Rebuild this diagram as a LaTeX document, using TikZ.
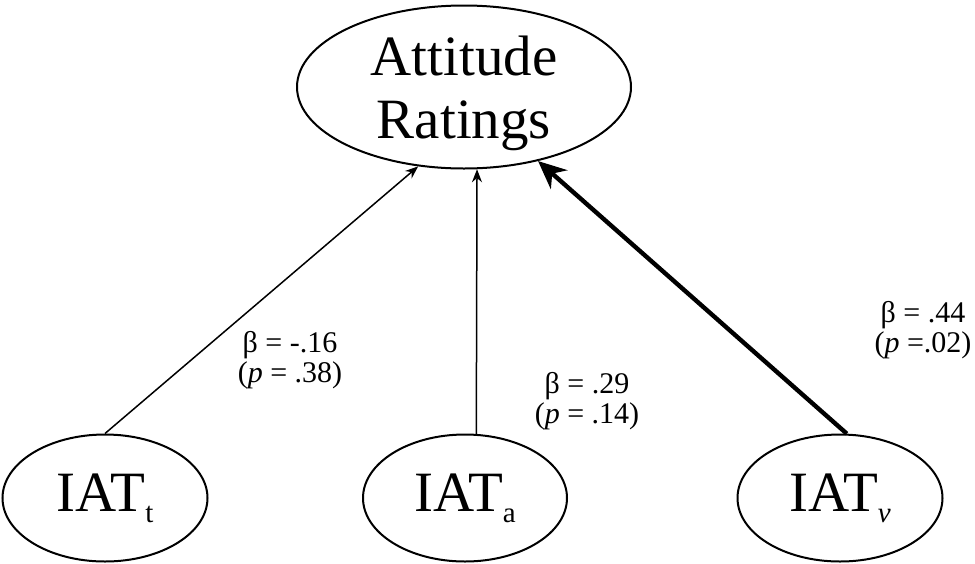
\documentclass[tikz,border=0pt]{standalone}
\usepackage{fontspec}
\setmainfont{Liberation Serif}
\usetikzlibrary{arrows.meta,shapes.geometric}

\newcommand{\subidx}[1]{\raisebox{-5.5pt}{\fontsize{14.5}{14.5}\selectfont #1}}

\begin{document}
\begin{tikzpicture}[x=0.5pt,y=-0.5pt,>=Stealth,
  oval/.style={draw,ellipse,line width=1pt,inner sep=0pt},
  bigtxt/.style={font=\fontsize{28.5}{31.5}\selectfont,align=center},
  coeflbl/.style={font=\fontsize{15}{15}\selectfont,align=center},
  thinarrow/.style={line width=0.75pt,-{Stealth[length=6.5pt,width=5pt]}},
  thickarrow/.style={line width=2.2pt,-{Stealth[length=14pt,width=12.5pt]}}]
  \useasboundingbox (0,0) rectangle (975,563);

  % outcome
  \node[oval,minimum width=167pt,minimum height=81.5pt,
        label={[bigtxt,yshift=-3pt]center:Attitude\\Ratings}] (att) at (464,87) {};

  % predictors
  \node[oval,minimum width=102.5pt,minimum height=63.5pt,
        label={[bigtxt]center:IAT\subidx{t}}] (iatt) at (105,498) {};
  \node[oval,minimum width=102pt,minimum height=63.5pt,
        label={[bigtxt]center:IAT\subidx{a}}] (iata) at (465,498) {};
  \node[oval,minimum width=102.5pt,minimum height=63.5pt,
        label={[bigtxt]center:IAT\subidx{\textit{v}}}] (iatv) at (840,498) {};

  % paths
  \draw[thinarrow] (iatt.north) -- (att.240);
  \draw[thinarrow] (iata.80) -- (att.279);
  \draw[thickarrow] (iatv.84) -- (att.315);

  % coefficients
  \node[coeflbl] (lblt) at (290,360) {β = -.16\\(\textit{p} = .38)};
  \node[coeflbl] (lbla) at (587,401) {β = .29\\(\textit{p} = .14)};
  \node[coeflbl] (lblv) at (923,330) {β = .44\\(\textit{p} =.02)};
\end{tikzpicture}
\end{document}
